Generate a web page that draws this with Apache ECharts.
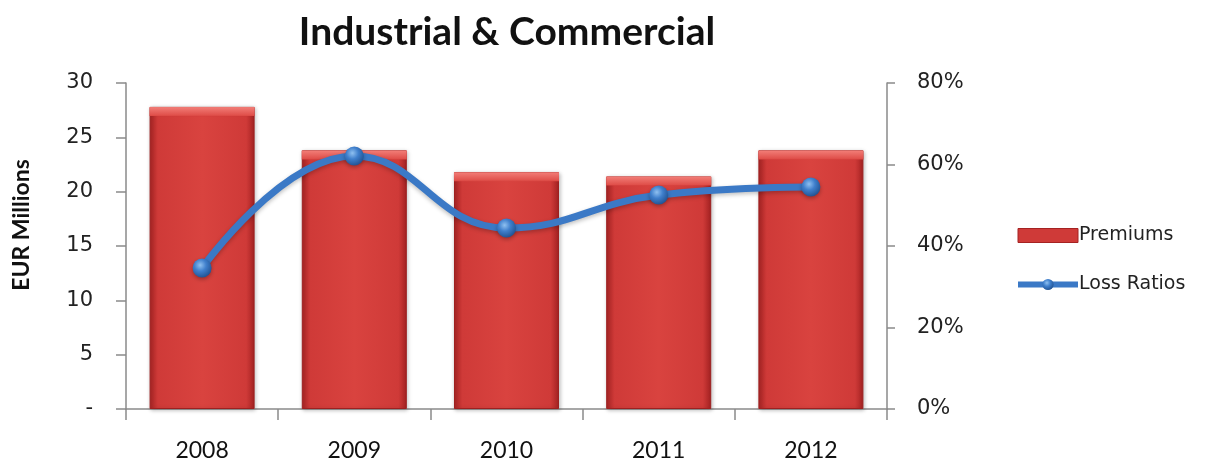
<!DOCTYPE html>
<html>
<head>
<meta charset="utf-8">
<script src="https://cdn.jsdelivr.net/npm/echarts@6/dist/echarts.min.js"></script>
<style>
  html, body { margin: 0; padding: 0; background: #fff; }
  #chart { width: 1216px; height: 463px; }
</style>
</head>
<body>
<div id="chart"></div>
<script>
// Industrial & Commercial line: yearly premiums (EUR millions) and loss ratios
const years = ['2008', '2009', '2010', '2011', '2012'];
const premiums = [27.8, 23.8, 21.8, 21.4, 23.8];
const lossRatios = [0.346, 0.621, 0.444, 0.525, 0.545];
const leftTicks = [0, 5, 10, 15, 20, 25, 30];
const rightTicks = [0, 0.2, 0.4, 0.6, 0.8];

const axisGrey = '#8a8a8a';
const labelFont = 'DejaVu Sans';

const barFill = {
  type: 'linear', x: 0, y: 0, x2: 1, y2: 0,
  colorStops: [
    { offset: 0, color: '#a92424' },
    { offset: 0.08, color: '#cf3a38' },
    { offset: 0.5, color: '#d9433f' },
    { offset: 0.92, color: '#cf3a38' },
    { offset: 1, color: '#a52222' }
  ]
};
const bevelFill = {
  type: 'linear', x: 0, y: 0, x2: 0, y2: 1,
  colorStops: [
    { offset: 0, color: '#f27e78' },
    { offset: 1, color: '#de4b46' }
  ]
};
const sphere = {
  type: 'radial', x: 0.4, y: 0.35, r: 0.7,
  colorStops: [
    { offset: 0, color: '#8fc0f0' },
    { offset: 0.45, color: '#3f7fcc' },
    { offset: 1, color: '#1f4f8e' }
  ]
};

const chart = echarts.init(document.getElementById('chart'));
chart.setOption({
  animation: false,
  title: {
    text: 'Industrial & Commercial',
    left: 502, top: 8, textAlign: 'center',
    textStyle: { fontFamily: 'Lato', fontWeight: 'bold', fontSize: 39, color: '#111' }
  },
  graphic: [{
    // left axis title, drawn rotated beside the tick labels
    type: 'text',
    x: 22, y: 225,
    rotation: Math.PI / 2,
    style: {
      text: 'EUR Millions',
      fontFamily: 'Lato', fontWeight: 'bold', fontSize: 23, fill: '#111',
      align: 'center', verticalAlign: 'middle'
    }
  }],
  legend: {
    orient: 'vertical',
    left: 1010, top: 221,
    itemGap: 30, itemWidth: 60, itemHeight: 14,
    data: [
      { name: 'Premiums', icon: 'rect', itemStyle: { color: '#cf3a38', borderColor: '#a52222', borderWidth: 1 } },
      { name: 'Loss Ratios', lineStyle: { width: 6, color: '#3b79c6' } }
    ],
    textStyle: { fontFamily: labelFont, fontSize: 19, color: '#222', padding: [0, 0, 0, -4] }
  },
  grid: { left: 126, right: 329, top: 83, bottom: 54 },
  xAxis: {
    type: 'category',
    data: years,
    boundaryGap: true,
    axisLine: { lineStyle: { color: axisGrey, width: 1.5 } },
    axisTick: { show: true, length: 11, lineStyle: { color: axisGrey, width: 1.5 } },
    axisLabel: { margin: 30, fontFamily: 'Lato', fontSize: 23, color: '#111' }
  },
  yAxis: [
    {
      type: 'value',
      min: leftTicks[0], max: leftTicks[leftTicks.length - 1], interval: 5,
      axisLine: { show: true, lineStyle: { color: axisGrey, width: 1.5 } },
      axisTick: { show: true, length: 10, lineStyle: { color: axisGrey, width: 1.5 } },
      splitLine: { show: false },
      axisLabel: {
        margin: 33, fontFamily: labelFont, fontSize: 21, color: '#222',
        formatter: v => (v === 0 ? '-' : String(v))
      }
    },
    {
      type: 'value',
      min: rightTicks[0], max: rightTicks[rightTicks.length - 1], interval: 0.2,
      position: 'right',
      axisLine: { show: true, lineStyle: { color: axisGrey, width: 1.5 } },
      axisTick: { show: true, length: 8, lineStyle: { color: axisGrey, width: 1.5 } },
      splitLine: { show: false },
      axisLabel: {
        margin: 30, fontFamily: labelFont, fontSize: 21, color: '#222',
        formatter: v => Math.round(v * 100) + '%'
      }
    }
  ],
  series: [
    {
      name: 'Premiums',
      type: 'bar',
      data: premiums,
      barCategoryGap: '31%',
      itemStyle: {
        color: barFill,
        borderColor: '#9e2020', borderWidth: 1,
        shadowColor: 'rgba(0,0,0,0.25)', shadowBlur: 4, shadowOffsetX: 1, shadowOffsetY: 1
      },
      z: 2
    },
    {
      // bevelled top face of each premium bar
      name: 'PremiumsTop',
      type: 'pictorialBar',
      data: premiums,
      symbol: 'rect',
      symbolSize: ['100%', 9],
      symbolPosition: 'end',
      symbolOffset: [0, 0],
      barCategoryGap: '31%',
      barGap: '-100%',
      itemStyle: { color: bevelFill, borderColor: '#b83030', borderWidth: 0.5 },
      z: 3,
      silent: true
    },
    {
      name: 'Loss Ratios',
      type: 'line',
      yAxisIndex: 1,
      data: lossRatios,
      smooth: 0.45,
      symbol: 'circle',
      symbolSize: 19,
      lineStyle: {
        color: '#3b79c6', width: 7,
        shadowColor: 'rgba(0,0,0,0.25)', shadowBlur: 4, shadowOffsetY: 2
      },
      itemStyle: {
        color: sphere, borderWidth: 0,
        shadowColor: 'rgba(0,0,0,0.3)', shadowBlur: 4, shadowOffsetY: 2
      },
      z: 5
    }
  ]
});
</script>
</body>
</html>
